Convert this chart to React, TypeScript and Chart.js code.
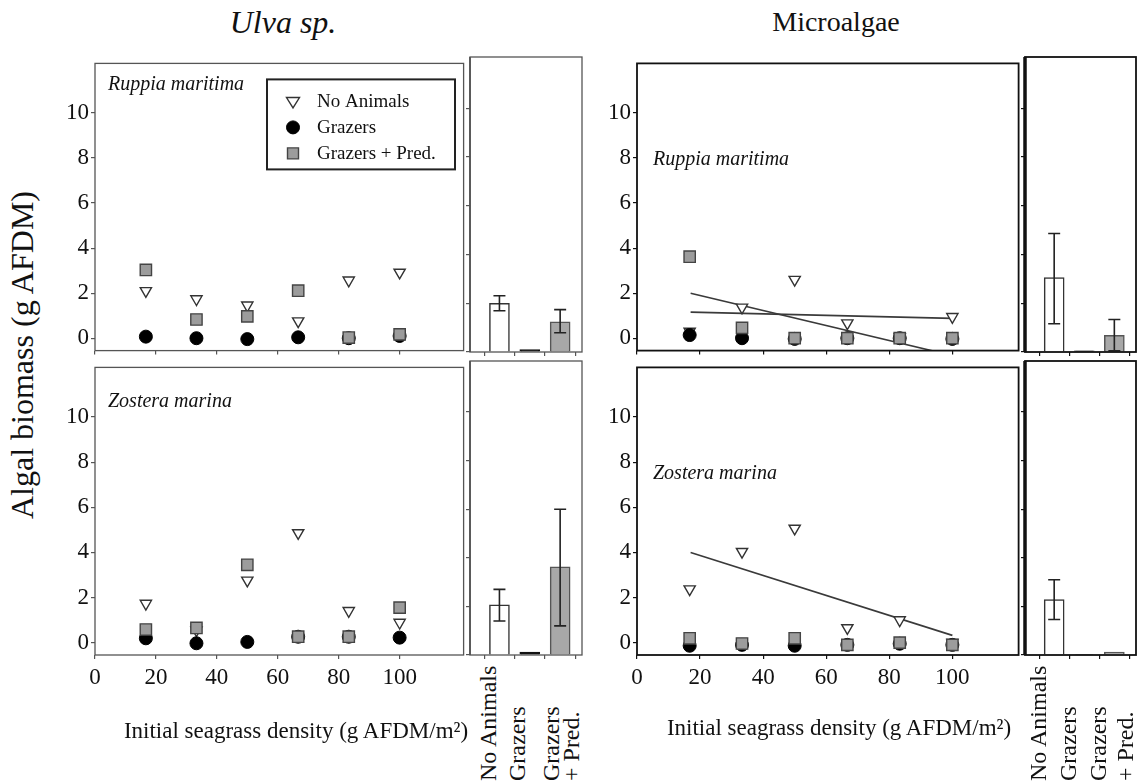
import React, { useEffect, useRef } from 'react';
import { Chart, registerables } from 'chart.js';
Chart.register(...registerables);

const SERIF = '"Liberation Serif", "Times New Roman", serif';
Chart.defaults.font.family = SERIF;

// ---------- data ----------
const densities = [16.7, 33.3, 50, 66.7, 83.3, 100];
const xTickValues = [0, 20, 40, 60, 80, 100];
const yTickValues = [0, 2, 4, 6, 8, 10];

const seriesLabels = ['No Animals', 'Grazers', 'Grazers + Pred.'];

// Ulva sp. / Ruppia maritima
const ulvaRuppiaNoAnimals = [2.1, 1.74, 1.46, 0.76, 2.57, 2.92];
const ulvaRuppiaGrazers = [0.07, 0.0, -0.04, 0.04, 0.0, 0.1];
const ulvaRuppiaGrazPred = [3.03, 0.83, 0.97, 2.11, 0.03, 0.17];
// Ulva sp. / Zostera marina
const ulvaZosteraNoAnimals = [1.73, 0.55, 2.76, 4.86, 1.41, 0.89];
const ulvaZosteraGrazers = [0.19, -0.03, 0.03, 0.26, 0.26, 0.22];
const ulvaZosteraGrazPred = [0.58, 0.65, 3.45, 0.26, 0.26, 1.55];
// Microalgae / Ruppia maritima
const microRuppiaNoAnimals = [0.3, 1.37, 2.6, 0.67, 0.05, 0.95];
const microRuppiaGrazers = [0.14, 0.0, -0.03, 0.0, 0.0, -0.03];
const microRuppiaGrazPred = [3.62, 0.46, 0.0, 0.0, 0.0, 0.0];
const microRuppiaFitX = [17, 100];
const microRuppiaFitSteep = [2.0, -0.77];
const microRuppiaFitFlat = [1.16, 0.88];
// Microalgae / Zostera marina
const microZosteraNoAnimals = [2.37, 4.03, 5.06, 0.65, 1.0, 0.0];
const microZosteraGrazers = [-0.14, -0.1, -0.14, -0.1, -0.05, -0.1];
const microZosteraGrazPred = [0.19, -0.04, 0.19, -0.1, 0.0, -0.1];
const microZosteraFitX = [17, 100];
const microZosteraFit = [3.99, 0.32];

// treatment summaries (bar panels)
const treatmentPositions = [1, 2, 3];
const treatmentLabelLines = [['No Animals'], ['Grazers'], ['Grazers', '+ Pred.']];
const ulvaRuppiaMeans = [2.0, 0.1, 1.24];
const ulvaRuppiaLow = [1.69, null, 0.79];
const ulvaRuppiaHigh = [2.31, null, 1.74];
const ulvaZosteraMeans = [2.06, 0.12, 3.63];
const ulvaZosteraLow = [1.4, null, 1.2];
const ulvaZosteraHigh = [2.7, null, 6.0];
const microRuppiaMeans = [3.05, 0.05, 0.68];
const microRuppiaLow = [1.16, null, 0.05];
const microRuppiaHigh = [4.86, null, 1.33];
const microZosteraMeans = [2.28, 0.02, 0.12];
const microZosteraLow = [1.46, null, null];
const microZosteraHigh = [3.1, null, null];

// ---------- styles ----------
const triStyle = {
  pointStyle: 'triangle', pointRotation: 180, pointRadius: 6.5,
  pointBackgroundColor: '#ffffff', pointBorderColor: '#333333', pointBorderWidth: 1.4,
  backgroundColor: '#ffffff', borderColor: '#333333',
};
const dotStyle = {
  pointStyle: 'circle', pointRadius: 6.5,
  pointBackgroundColor: '#000000', pointBorderColor: '#000000', pointBorderWidth: 1,
  backgroundColor: '#000000', borderColor: '#000000',
};
const sqStyle = {
  pointStyle: 'rect', pointRadius: 8,
  pointBackgroundColor: '#9c9c9c', pointBorderColor: '#444444', pointBorderWidth: 1.4,
  backgroundColor: '#9c9c9c', borderColor: '#444444',
};
const barFills = ['#ffffff', '#111111', '#a8a8a8'];
const barBorders = ['#333333', '#111111', '#555555'];

// ---------- plugins ----------
const framePlugin = {
  id: 'frame',
  afterDraw(chart: any, _a: any, opts: any) {
    const { ctx, chartArea: a } = chart;
    ctx.save();
    ctx.strokeStyle = opts.color || '#000';
    ctx.lineWidth = opts.width || 1.5;
    ctx.strokeRect(a.left, a.top, a.right - a.left, a.bottom - a.top);
    if (opts.leftWidth) {
      ctx.lineWidth = opts.leftWidth;
      ctx.beginPath();
      ctx.moveTo(a.left, a.top);
      ctx.lineTo(a.left, a.bottom);
      ctx.stroke();
    }
    ctx.restore();
  },
};

function drawMarker(ctx: CanvasRenderingContext2D, ds: any, cx: number, cy: number) {
  ctx.save();
  ctx.fillStyle = ds.pointBackgroundColor;
  ctx.strokeStyle = ds.pointBorderColor;
  ctx.lineWidth = ds.pointBorderWidth;
  ctx.beginPath();
  if (ds.pointStyle === 'triangle') {
    const s = 6.5;
    ctx.moveTo(cx - s, cy - s * 0.6);
    ctx.lineTo(cx + s, cy - s * 0.6);
    ctx.lineTo(cx, cy + s);
    ctx.closePath();
  } else if (ds.pointStyle === 'circle') {
    ctx.arc(cx, cy, 6.5, 0, Math.PI * 2);
  } else {
    ctx.rect(cx - 5.5, cy - 5.5, 11, 11);
  }
  ctx.fill();
  ctx.stroke();
  ctx.restore();
}

const boxLegendPlugin = {
  id: 'boxLegend',
  afterDraw(chart: any, _a: any, opts: any) {
    if (!opts || !opts.show) return;
    const { ctx, chartArea: a } = chart;
    const x0 = a.left + opts.dx;
    const y0 = a.top + opts.dy;
    ctx.save();
    ctx.fillStyle = '#ffffff';
    ctx.fillRect(x0, y0, opts.w, opts.h);
    ctx.lineWidth = 2;
    ctx.strokeStyle = '#222';
    ctx.strokeRect(x0, y0, opts.w, opts.h);
    ctx.font = `19px ${SERIF}`;
    ctx.textBaseline = 'middle';
    opts.order.forEach((dsIndex: number, i: number) => {
      const ds = chart.data.datasets[dsIndex];
      const cy = y0 + opts.rowStart + i * opts.rowGap;
      drawMarker(ctx, ds, x0 + opts.markerX, cy);
      ctx.fillStyle = '#111';
      ctx.fillText(ds.label, x0 + opts.textX, cy + 1);
    });
    ctx.restore();
  },
};

const errorBarPlugin = {
  id: 'errorBars',
  afterDatasetsDraw(chart: any) {
    const { ctx } = chart;
    const yScale = chart.scales.y;
    chart.data.datasets.forEach((ds: any, di: number) => {
      if (!ds.errLow) return;
      const meta = chart.getDatasetMeta(di);
      meta.data.forEach((bar: any, i: number) => {
        const lo = ds.errLow[i];
        const hi = ds.errHigh[i];
        if (lo == null || hi == null) return;
        const x = bar.x;
        const yl = yScale.getPixelForValue(lo);
        const yh = yScale.getPixelForValue(hi);
        ctx.save();
        ctx.strokeStyle = '#222';
        ctx.lineWidth = 1.6;
        ctx.beginPath();
        ctx.moveTo(x, yl); ctx.lineTo(x, yh);
        ctx.moveTo(x - 6, yl); ctx.lineTo(x + 6, yl);
        ctx.moveTo(x - 6, yh); ctx.lineTo(x + 6, yh);
        ctx.stroke();
        ctx.restore();
      });
    });
  },
};

// ---------- geometry ----------
const rows = [
  { top: 57, bottom: 352, xAxisH: 8 },
  { top: 361, bottom: 655, xAxisH: 45 },
];
const cols = [
  { left: 95, divider: 470, right: 582, frame: '#555555', frameW: 1.3, divW: 1.8 },
  { left: 637, divider: 1025, right: 1136, frame: '#111111', frameW: 1.8, divW: 3.5 },
];
const Y_AXIS_W = 48;
const PAD = 3;
const tickFont = { family: SERIF, size: 23 };

const pts = (xs: number[], ys: number[]) => xs.map((x, i) => ({ x, y: ys[i] }));

function fixX(h: number) {
  return (s: any) => { s.height = h; s.paddingLeft = 0; s.paddingRight = 0; };
}
function fixY(w: number) {
  return (s: any) => { s.width = w; s.paddingTop = 0; s.paddingBottom = 0; };
}

function scatterDatasets(na: number[], gr: number[], gp: number[], fits: number[][][]) {
  const ds: any[] = [
    { label: seriesLabels[2], data: pts(densities, gp), ...sqStyle },
    { label: seriesLabels[1], data: pts(densities, gr), ...dotStyle },
    { label: seriesLabels[0], data: pts(densities, na), ...triStyle },
  ];
  fits.forEach(([fx, fy]) => {
    ds.push({
      label: 'fit', data: pts(fx, fy), showLine: true, pointRadius: 0,
      borderColor: '#3a3a3a', borderWidth: 1.6, backgroundColor: '#3a3a3a',
    });
  });
  return ds;
}

function scatterConfig(datasets: any[], row: any, col: any, showX: boolean, legend: any) {
  const tickGrid = { display: true, drawOnChartArea: false, drawTicks: true, tickLength: 4, color: col.frame, lineWidth: 1.2 };
  return {
    type: 'scatter',
    data: { datasets },
    plugins: [framePlugin, boxLegendPlugin],
    options: {
      animation: false,
      responsive: false,
      layout: { padding: { top: PAD, right: PAD, left: 0, bottom: 0 } },
      plugins: {
        legend: { display: false },
        tooltip: { enabled: false },
        frame: { color: col.frame, width: col.frameW },
        boxLegend: legend || { show: false },
      },
      scales: {
        x: {
          type: 'linear', min: 0, max: 121,
          afterBuildTicks: (s: any) => { s.ticks = xTickValues.map((v) => ({ value: v })); },
          afterFit: fixX(row.xAxisH),
          ticks: { display: showX, font: tickFont, color: '#111', padding: 5, maxRotation: 0, autoSkip: false },
          grid: tickGrid,
          border: { display: false },
        },
        y: {
          type: 'linear', min: -0.55, max: 12.2,
          afterBuildTicks: (s: any) => { s.ticks = yTickValues.map((v) => ({ value: v })); },
          afterFit: fixY(Y_AXIS_W),
          ticks: { font: tickFont, color: '#111', padding: 2 },
          grid: tickGrid,
          border: { display: false },
        },
      },
    },
  };
}

function barConfig(means: number[], lows: any[], highs: any[], row: any, col: any) {
  const tickGrid = { display: true, drawOnChartArea: false, drawTicks: true, tickLength: 4, color: col.frame, lineWidth: 1.2 };
  return {
    type: 'bar',
    data: {
      datasets: [{
        label: 'mean',
        data: pts(treatmentPositions, means),
        backgroundColor: barFills,
        borderColor: barBorders,
        borderWidth: 1.5,
        barThickness: 20,
        errLow: lows,
        errHigh: highs,
      }],
    },
    plugins: [framePlugin, errorBarPlugin],
    options: {
      animation: false,
      responsive: false,
      layout: { padding: { top: PAD, right: PAD, left: 0, bottom: 0 } },
      plugins: {
        legend: { display: false },
        tooltip: { enabled: false },
        frame: { color: col.frame, width: col.frameW, leftWidth: col.divW },
      },
      scales: {
        x: {
          type: 'linear', min: 0.03, max: 3.72, offset: false,
          afterBuildTicks: (s: any) => { s.ticks = treatmentPositions.map((v) => ({ value: v })); },
          afterFit: fixX(8),
          ticks: { display: false },
          grid: tickGrid,
          border: { display: false },
        },
        y: {
          type: 'linear', min: 0, max: 12.1,
          afterBuildTicks: (s: any) => { s.ticks = yTickValues.map((v) => ({ value: v })); },
          afterFit: fixY(8),
          ticks: { display: false },
          grid: tickGrid,
          border: { display: false },
        },
      },
    },
  };
}

function ChartBox({ left, top, width, height, config }: any) {
  const ref = useRef<HTMLCanvasElement>(null);
  useEffect(() => {
    const chart = new Chart(ref.current as HTMLCanvasElement, config);
    return () => chart.destroy();
  }, []);
  return (
    <canvas
      ref={ref}
      width={width}
      height={height}
      style={{ position: 'absolute', left, top, width, height }}
    />
  );
}

function ScatterPanel({ r, c, datasets, legend }: any) {
  const row = rows[r];
  const col = cols[c];
  const left = col.left - Y_AXIS_W;
  const top = row.top - PAD;
  const width = Y_AXIS_W + (col.divider - col.left) + PAD;
  const height = PAD + (row.bottom - row.top) + row.xAxisH;
  return <ChartBox left={left} top={top} width={width} height={height}
    config={scatterConfig(datasets, row, col, r === 1, legend)} />;
}

function BarPanel({ r, c, means, lows, highs }: any) {
  const row = rows[r];
  const col = cols[c];
  const left = col.divider - 8;
  const top = row.top - PAD;
  const width = 8 + (col.right - col.divider) + PAD;
  const height = PAD + (row.bottom - row.top) + 8;
  return <ChartBox left={left} top={top} width={width} height={height}
    config={barConfig(means, lows, highs, row, col)} />;
}

const txt = (extra: any): any => ({
  position: 'absolute', fontFamily: SERIF, color: '#111', whiteSpace: 'nowrap', lineHeight: 1, ...extra,
});

function Centered({ x, y, size, italic, rotate, children }: any) {
  return (
    <div style={txt({
      left: x, top: y, fontSize: size, fontStyle: italic ? 'italic' : 'normal',
      transform: `translate(-50%, -50%)${rotate ? ' rotate(-90deg)' : ''}`,
    })}>{children}</div>
  );
}

function PanelLabel({ x, y, children }: any) {
  return (
    <div style={txt({ left: x, top: y, fontSize: 20, fontStyle: 'italic', transform: 'translateY(-50%)' })}>
      {children}
    </div>
  );
}

function BarLabels({ centers }: any) {
  const items: any[] = [];
  let k = 0;
  treatmentLabelLines.forEach((lines) => {
    lines.forEach((line) => {
      const cx = centers[k++];
      items.push(
        <div key={cx} style={txt({
          left: cx - 10, top: 781, fontSize: 24, lineHeight: '20px',
          transformOrigin: '0 0', transform: 'rotate(-90deg)',
        })}>{line}</div>
      );
    });
  });
  return <>{items}</>;
}

export default function App() {
  const legend = {
    show: true, order: [2, 1, 0], dx: 172, dy: 16, w: 188, h: 90,
    markerX: 26, textX: 50, rowStart: 22, rowGap: 26,
  };
  return (
    <div style={{ position: 'absolute', left: 0, top: 0, width: 1138, height: 782, overflow: 'hidden', background: '#fff' }}>
      <Centered x={283} y={22} size={32} italic>Ulva sp.</Centered>
      <Centered x={836} y={22} size={28}>Microalgae</Centered>
      <Centered x={22} y={355} size={32} rotate>Algal biomass (g AFDM)</Centered>

      <ScatterPanel r={0} c={0} legend={legend}
        datasets={scatterDatasets(ulvaRuppiaNoAnimals, ulvaRuppiaGrazers, ulvaRuppiaGrazPred, [])} />
      <BarPanel r={0} c={0} means={ulvaRuppiaMeans} lows={ulvaRuppiaLow} highs={ulvaRuppiaHigh} />
      <ScatterPanel r={1} c={0}
        datasets={scatterDatasets(ulvaZosteraNoAnimals, ulvaZosteraGrazers, ulvaZosteraGrazPred, [])} />
      <BarPanel r={1} c={0} means={ulvaZosteraMeans} lows={ulvaZosteraLow} highs={ulvaZosteraHigh} />

      <ScatterPanel r={0} c={1}
        datasets={scatterDatasets(microRuppiaNoAnimals, microRuppiaGrazers, microRuppiaGrazPred,
          [[microRuppiaFitX, microRuppiaFitSteep], [microRuppiaFitX, microRuppiaFitFlat]])} />
      <BarPanel r={0} c={1} means={microRuppiaMeans} lows={microRuppiaLow} highs={microRuppiaHigh} />
      <ScatterPanel r={1} c={1}
        datasets={scatterDatasets(microZosteraNoAnimals, microZosteraGrazers, microZosteraGrazPred,
          [[microZosteraFitX, microZosteraFit]])} />
      <BarPanel r={1} c={1} means={microZosteraMeans} lows={microZosteraLow} highs={microZosteraHigh} />

      <PanelLabel x={108} y={83}>Ruppia maritima</PanelLabel>
      <PanelLabel x={108} y={400}>Zostera marina</PanelLabel>
      <PanelLabel x={653} y={158}>Ruppia maritima</PanelLabel>
      <PanelLabel x={653} y={472}>Zostera marina</PanelLabel>

      <Centered x={296} y={730} size={23}>Initial seagrass density (g AFDM/m²)</Centered>
      <Centered x={839} y={727} size={23}>Initial seagrass density (g AFDM/m²)</Centered>

      <BarLabels centers={[488, 517, 551, 571]} />
      <BarLabels centers={[1038, 1068, 1098, 1125]} />
    </div>
  );
}
